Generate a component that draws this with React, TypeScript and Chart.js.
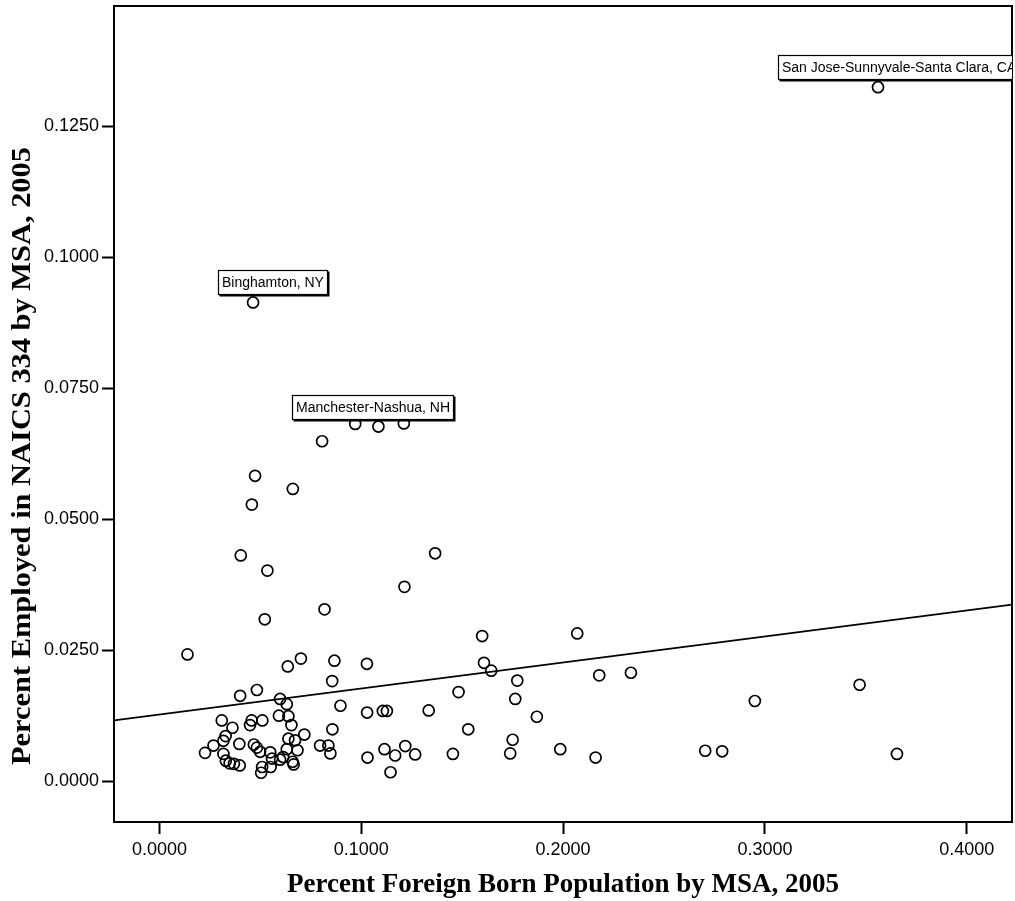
import React, { useEffect, useRef } from "react";
import { Chart, registerables } from "chart.js";

Chart.register(...registerables);

// Percent foreign born population by MSA, 2005 (x)
const foreignBorn = [
  0.3560, 0.0464, 0.0970, 0.1085, 0.1211, 0.0806, 0.0474, 0.0661, 0.0458, 0.0403,
  0.0535, 0.1366, 0.1214, 0.0522, 0.0818, 0.1599, 0.2070, 0.0139, 0.0701, 0.0867,
  0.1028, 0.0636, 0.0856, 0.1608, 0.1644, 0.1773, 0.2179, 0.2336, 0.1482, 0.1763,
  0.2950, 0.3469, 0.0897, 0.1029, 0.1107, 0.1127, 0.1334, 0.1870, 0.0857, 0.0718,
  0.1530, 0.1750, 0.0796, 0.0837, 0.0847, 0.1031, 0.1115, 0.1168, 0.1218, 0.1267,
  0.1454, 0.1738, 0.1986, 0.2161, 0.2704, 0.2788, 0.3654, 0.1145,
  0.0400, 0.0483, 0.0598, 0.0631, 0.0309, 0.0362, 0.0449, 0.0457, 0.0510, 0.0592,
  0.0639, 0.0654, 0.0328, 0.0226, 0.0268, 0.0317, 0.0396, 0.0468, 0.0483, 0.0499,
  0.0639, 0.0672, 0.0684, 0.0631, 0.0317, 0.0329, 0.0348, 0.0369, 0.0398, 0.0549,
  0.0558, 0.0598, 0.0613, 0.0660, 0.0665, 0.0509, 0.0504, 0.0551,
];

// Percent employed in NAICS 334 by MSA, 2005 (y)
const employed334 = [
  0.1325, 0.0914, 0.0682, 0.0677, 0.0683, 0.0649, 0.0583, 0.0558, 0.0528, 0.0431,
  0.0402, 0.0435, 0.0371, 0.0309, 0.0328, 0.0277, 0.0282, 0.0242, 0.0234, 0.0230,
  0.0224, 0.0219, 0.0191, 0.0226, 0.0211, 0.0192, 0.0202, 0.0207, 0.0170, 0.0157,
  0.0153, 0.0184, 0.0144, 0.0131, 0.0134, 0.0134, 0.0135, 0.0123, 0.0099, 0.0089,
  0.0099, 0.0079, 0.0068, 0.0068, 0.0053, 0.0045, 0.0061, 0.0049, 0.0067, 0.0051,
  0.0052, 0.0053, 0.0061, 0.0045, 0.0058, 0.0057, 0.0052, 0.0017,
  0.0163, 0.0174, 0.0157, 0.0147, 0.0116, 0.0102, 0.0107, 0.0116, 0.0116, 0.0125,
  0.0124, 0.0107, 0.0086, 0.0054, 0.0068, 0.0077, 0.0071, 0.0070, 0.0064, 0.0056,
  0.0081, 0.0078, 0.0059, 0.0061, 0.0052, 0.0039, 0.0034, 0.0033, 0.0030, 0.0055,
  0.0043, 0.0041, 0.0046, 0.0037, 0.0032, 0.0027, 0.0016, 0.0027,
];

// Linear fit line end points (read at the frame edges)
const fitX = [-0.0225, 0.4224];
const fitY = [0.0116, 0.0337];

const xTicks = [0, 0.1, 0.2, 0.3, 0.4];
const yTicks = [0, 0.025, 0.05, 0.075, 0.1, 0.125];

const calloutNames = [
  "San Jose-Sunnyvale-Santa Clara, CA",
  "Binghamton, NY",
  "Manchester-Nashua, NH",
];
const calloutIndex = [0, 1, 3];
const calloutDx = [-100, -35, -86];

const xTitle = "Percent Foreign Born Population by MSA, 2005";
const yTitle = "Percent Employed in NAICS 334 by MSA, 2005";

const SANS = '"Liberation Sans", Arial, Helvetica, sans-serif';
const SERIF = '"Liberation Serif", "Times New Roman", Times, serif';

function drawFitted(ctx: CanvasRenderingContext2D, text: string, cx: number, cy: number, width: number, angle: number) {
  const w = ctx.measureText(text).width;
  ctx.save();
  ctx.translate(cx, cy);
  ctx.rotate(angle);
  ctx.scale(width / w, 1);
  ctx.fillText(text, 0, 0);
  ctx.restore();
}

const overlayPlugin = {
  id: "overlay",
  afterDraw(chart: any) {
    const { ctx, chartArea: a, scales } = chart;
    const xs = scales.x;
    const ys = scales.y;
    ctx.save();
    // frame
    ctx.strokeStyle = "#000";
    ctx.lineWidth = 2;
    ctx.strokeRect(a.left, a.top, a.right - a.left, a.bottom - a.top);

    // callout labels (clipped to plot frame)
    ctx.save();
    ctx.beginPath();
    ctx.rect(a.left, a.top, a.right - a.left, a.bottom - a.top);
    ctx.clip();
    ctx.font = `14px ${SANS}`;
    ctx.textBaseline = "middle";
    ctx.textAlign = "left";
    calloutNames.forEach((name, i) => {
      const k = calloutIndex[i];
      const px = xs.getPixelForValue(foreignBorn[k]);
      const py = ys.getPixelForValue(employed334[k]);
      const w = Math.round(ctx.measureText(name).width + 8);
      const h = 25;
      const left = Math.round(px + calloutDx[i]);
      const top = Math.round(py - 7 - h);
      ctx.fillStyle = "#000";
      ctx.fillRect(left + 1.5, top + 1.5, w, h);
      ctx.fillStyle = "#fff";
      ctx.fillRect(left, top, w, h);
      ctx.strokeStyle = "#000";
      ctx.lineWidth = 1.2;
      ctx.strokeRect(left + 0.5, top + 0.5, w - 1, h - 1);
      ctx.fillStyle = "#000";
      ctx.fillText(name, left + 4, top + h / 2 + 1);
    });
    ctx.restore();

    // axis titles
    ctx.fillStyle = "#000";
    ctx.font = `bold 27px ${SERIF}`;
    ctx.textAlign = "center";
    ctx.textBaseline = "middle";
    drawFitted(ctx, xTitle, (a.left + a.right) / 2, 885, 552, 0);
    drawFitted(ctx, yTitle, 23, 456, 618, -Math.PI / 2);
    ctx.restore();
  },
};

export default function App() {
  const canvasRef = useRef<HTMLCanvasElement | null>(null);

  useEffect(() => {
    const canvas = canvasRef.current;
    if (!canvas) return;
    const points = foreignBorn.map((x, i) => ({ x, y: employed334[i] }));
    const fit = fitX.map((x, i) => ({ x, y: fitY[i] }));
    const tickFont = { family: SANS, size: 18 };
    const chart = new Chart(canvas, {
      type: "scatter",
      data: {
        datasets: [
          {
            data: points,
            pointRadius: 5.5,
            pointHoverRadius: 5.5,
            pointBorderWidth: 1.7,
            borderColor: "#000",
            backgroundColor: "rgba(0,0,0,0)",
          },
          {
            data: fit,
            showLine: true,
            borderColor: "#000",
            borderWidth: 1.6,
            pointRadius: 0,
            pointHoverRadius: 0,
          } as any,
        ],
      },
      options: {
        animation: false,
        responsive: false,
        devicePixelRatio: 1,
        events: [],
        layout: { autoPadding: false, padding: { top: 6, right: 3, left: 0, bottom: 0 } },
        plugins: { legend: { display: false }, tooltip: { enabled: false } },
        scales: {
          x: {
            type: "linear",
            min: -0.0225,
            max: 0.4224,
            afterBuildTicks: (s: any) => {
              s.ticks = xTicks.map((v) => ({ value: v }));
            },
            afterFit: (s: any) => {
              s.height = 79;
              s.paddingLeft = 0;
              s.paddingRight = 0;
              s.paddingTop = 0;
              s.paddingBottom = 0;
            },
            ticks: {
              callback: (v: any) => Number(v).toFixed(4),
              font: tickFont,
              color: "#000",
              padding: 5,
              maxRotation: 0,
              autoSkip: false,
            },
            grid: {
              drawOnChartArea: false,
              drawTicks: true,
              tickLength: 12,
              tickWidth: 2,
              tickColor: "#000",
            },
            border: { display: false },
          },
          y: {
            type: "linear",
            min: -0.0078,
            max: 0.148,
            afterBuildTicks: (s: any) => {
              s.ticks = yTicks.map((v) => ({ value: v }));
            },
            afterFit: (s: any) => {
              s.width = 114;
              s.paddingLeft = 0;
              s.paddingRight = 0;
              s.paddingTop = 0;
              s.paddingBottom = 0;
            },
            ticks: {
              callback: (v: any) => Number(v).toFixed(4),
              font: tickFont,
              color: "#000",
              padding: 3,
              autoSkip: false,
            },
            grid: {
              drawOnChartArea: false,
              drawTicks: true,
              tickLength: 12,
              tickWidth: 2,
              tickColor: "#000",
            },
            border: { display: false },
          },
        },
      },
      plugins: [overlayPlugin],
    });
    return () => chart.destroy();
  }, []);

  return (
    <div style={{ position: "absolute", left: 0, top: 0, width: 1015, height: 901, background: "#fff" }}>
      <canvas ref={canvasRef} width={1015} height={901} style={{ display: "block" }} />
    </div>
  );
}
